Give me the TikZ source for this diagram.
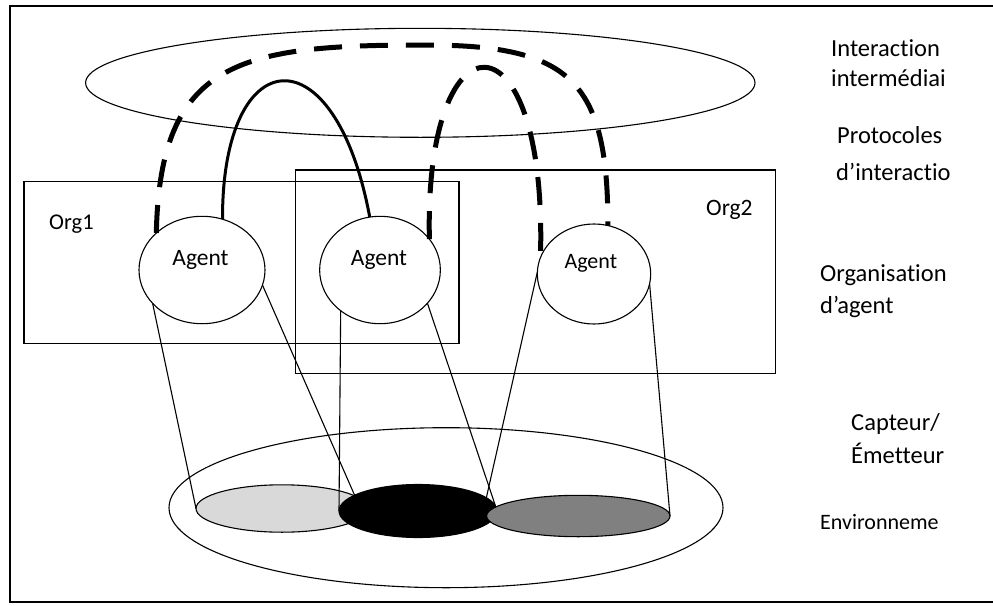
\documentclass[tikz,border=0pt]{standalone}
\usepackage{fontspec}
\setmainfont{Carlito}[Ligatures={NoCommon,NoContextual}]
\usetikzlibrary{shapes.geometric}
\begin{document}
\begin{tikzpicture}[x=1pt,y=-1pt,
  thinline/.style={line width=1.1pt},
  frameline/.style={line width=1.6pt},
  orgbox/.style={draw,rectangle,line width=1.1pt,inner sep=0pt,outer sep=0pt},
  oval/.style={draw,ellipse,line width=1.1pt,inner sep=0pt,outer sep=0pt},
  agentoval/.style={oval,fill=white},
  thickdash/.style={line width=5pt,dash pattern=on 28pt off 18pt},
  solidlink/.style={line width=3pt},
  lbl/.style={inner sep=0pt,anchor=base west,font=\fontsize{24.5}{30}\selectfont},
  small/.style={inner sep=0pt,anchor=base west,font=\fontsize{22}{27}\selectfont},
  agenttxt/.style={inner sep=0pt,anchor=base,font=\fontsize{23.5}{28}\selectfont}
]
\useasboundingbox (0,0) rectangle (993,605);

% outer frame (open on the right side)
\draw[frameline] (993,6) -- (9.7,6) -- (9.7,602) -- (993,602);

% interaction layer
\node[oval,minimum width=669.4pt,minimum height=109pt] (inter) at (420.3,82.8) {};

% organisations
\node[orgbox,minimum width=435pt,minimum height=162pt] (org1) at (241.5,262.7) {};
\node[orgbox,minimum width=480.4pt,minimum height=203.3pt] (org2) at (535.5,271.65) {};
\node[small,font=\fontsize{22.5}{27}\selectfont] (org1lbl) at (49,229) {Org1};
\node[small,font=\fontsize{23.5}{28}\selectfont] (org2lbl) at (706,215.5) {Org2};

% environment
\node[oval,minimum width=554pt,minimum height=160pt] (env) at (446,507.7) {};
\node[oval,fill={rgb,255:red,217;green,217;blue,217},minimum width=172pt,minimum height=47.4pt] (lg) at (282,508.5) {};
\node[oval,fill=black,minimum width=158pt,minimum height=53pt] (bk) at (418,511) {};
\node[oval,fill={rgb,255:red,128;green,128;blue,128},minimum width=183.4pt,minimum height=41.4pt] (dg) at (578.3,516) {};

% agents
\node[agentoval,minimum width=126pt,minimum height=107.4pt] (a1) at (202,270) {};
\node[agentoval,minimum width=120.7pt,minimum height=107.4pt] (a2) at (380,270) {};
\node[agentoval,minimum width=113.4pt,minimum height=100pt] (a3) at (594,274) {};
\node[agenttxt] (a1t) at (200.5,265) {Agent};
\node[agenttxt] (a2t) at (379,265) {Agent};
\node[agenttxt,font=\fontsize{22}{27}\selectfont] (a3t) at (590.8,268.5) {Agent};

% sensor / emitter links
\draw[thinline] (a1.214) -- (lg.west);
\draw[thinline] (a1.346) -- (bk.166);
\draw[thinline] (a2.226) -- (bk.west);
\draw[thinline] (a2.325) -- (bk.4);
\draw[thinline] (a3.178) -- (bk.11);
\draw[thinline] (a3.350) -- (dg.east);

% interaction protocols
\coordinate (apexA) at (425,45);
\draw[thickdash] (a1.141) .. controls (160,60) and (240,45) .. (apexA)
                 .. controls (570,45) and (608,80) .. (a3.74);
\draw[thickdash] (a2.32) .. controls (424,7) and (548,7) .. (a3.163);
\draw[solidlink] (a1.68) .. controls (222,40) and (335,30) .. (a2.101);

% layer captions
\node[lbl] (c1) at (831,56) {Interaction};
\node[lbl] (c2) at (831,86) {intermédiai};
\node[lbl] (c3) at (837,143) {Protocoles};
\node[lbl] (c4) at (836,180) {d’interactio};
\node[lbl] (c5) at (820,281) {Organisation};
\node[lbl] (c6) at (820,313) {d’agent};
\node[lbl] (c7) at (851,430) {Capteur/};
\node[lbl] (c8) at (851,463) {Émetteur};
\node[small] (c9) at (820,529.5) {Environneme};
\end{tikzpicture}
\end{document}
